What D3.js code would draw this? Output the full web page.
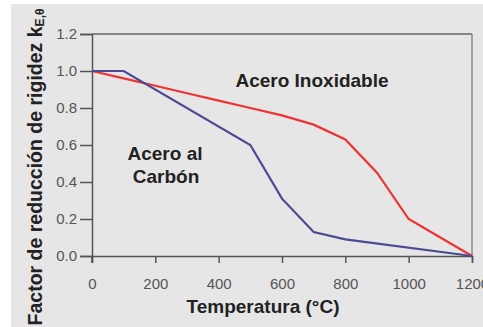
<!DOCTYPE html>
<html><head><meta charset="utf-8">
<script src="https://cdn.jsdelivr.net/npm/d3@7"></script>
<style>
html,body{margin:0;padding:0;background:#fff;}
svg{display:block;}
text{font-family:"Liberation Sans",Arial,Helvetica,sans-serif;}
</style></head>
<body>
<svg id="chart" width="483" height="327"></svg>
<script>
const temperatures = [0, 100, 200, 300, 400, 500, 600, 700, 800, 900, 1000, 1100, 1200];
const carbonTemps = [0, 100, 500, 600, 700, 800, 1200];
const carbonValues = [1.0, 1.0, 0.6, 0.31, 0.13, 0.09, 0.0];
const stainlessValues = [1.0, 0.96, 0.92, 0.88, 0.84, 0.80, 0.76, 0.71, 0.63, 0.45, 0.20, 0.10, 0.0];
const xTicks = [0, 200, 400, 600, 800, 1000, 1200];
const yTicks = [0.0, 0.2, 0.4, 0.6, 0.8, 1.0, 1.2];

const svg = d3.select("#chart");
svg.append("rect").attr("x", 11).attr("y", 4).attr("width", 472).attr("height", 323).attr("fill", "#e6e6e6");

const x = d3.scaleLinear().domain([0, 1200]).range([92, 472]);
const y = d3.scaleLinear().domain([0, 1.2]).range([256, 34]);

// frame top & right
svg.append("line").attr("x1", x(0)).attr("x2", x(1200)).attr("y1", y(1.2)).attr("y2", y(1.2)).attr("stroke", "#666").attr("stroke-width", 1.5);
svg.append("line").attr("x1", x(1200)).attr("x2", x(1200)).attr("y1", y(1.2)).attr("y2", y(0)).attr("stroke", "#888").attr("stroke-width", 1.5);

const yAxis = svg.append("g").attr("transform", `translate(${x(0)},0)`)
  .call(d3.axisLeft(y).tickValues(yTicks).tickFormat(d3.format(".1f")).tickSize(12).tickPadding(3));
const xAxis = svg.append("g").attr("transform", `translate(0,${y(0)})`)
  .call(d3.axisBottom(x).tickValues(xTicks).tickFormat(d3.format("d")).tickSize(7).tickPadding(15));
[yAxis, xAxis].forEach(g => {
  g.select(".domain").attr("stroke", "#555").attr("stroke-width", 1.5);
  g.selectAll(".tick line").attr("stroke", "#555").attr("stroke-width", 1.5);
  g.selectAll(".tick text").attr("fill", "#555").attr("font-size", 15);
});
// tick at 0 crosses the axis
svg.append("line").attr("x1", x(0)).attr("x2", x(0)).attr("y1", y(0)).attr("y2", y(0) + 7).attr("stroke", "#555").attr("stroke-width", 1.5);

const line = d3.line().x(d => x(d[0])).y(d => y(d[1]));
svg.append("path").datum(temperatures.map((t, i) => [t, stainlessValues[i]]))
  .attr("d", line).attr("fill", "none").attr("stroke", "#ee3333").attr("stroke-width", 2.2);
svg.append("path").datum(carbonTemps.map((t, i) => [t, carbonValues[i]]))
  .attr("d", line).attr("fill", "none").attr("stroke", "#4c4a92").attr("stroke-width", 2.2);

const lab = (t, cx, by) => svg.append("text").attr("x", cx).attr("y", by).attr("text-anchor", "middle")
  .attr("font-size", 19).attr("font-weight", "bold").attr("fill", "#222").text(t);
lab("Acero Inoxidable", 312, 87);
lab("Acero al", 165, 160);
lab("Carbón", 166, 183);

svg.append("text").attr("x", 263).attr("y", 313).attr("text-anchor", "middle")
  .attr("font-size", 19).attr("font-weight", "bold").attr("fill", "#222").text("Temperatura (°C)");

const yt = svg.append("text").attr("transform", "translate(42,167) rotate(-90)").attr("text-anchor", "middle")
  .attr("font-size", 19.5).attr("font-weight", "bold").attr("fill", "#222");
yt.append("tspan").text("Factor de reducción de rigidez k");
yt.append("tspan").attr("font-size", 12).attr("dy", 2).text("E,θ");
</script>
</body></html>
